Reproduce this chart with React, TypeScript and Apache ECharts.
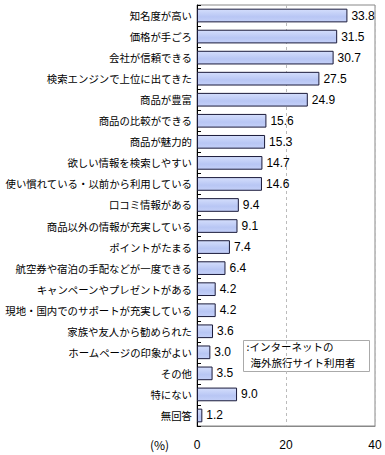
import React, { useEffect, useRef } from "react";
import * as echarts from "echarts";

const categories = [
  "知名度が高い",
  "価格が手ごろ",
  "会社が信頼できる",
  "検索エンジンで上位に出てきた",
  "商品が豊富",
  "商品の比較ができる",
  "商品が魅力的",
  "欲しい情報を検索しやすい",
  "使い慣れている・以前から利用している",
  "口コミ情報がある",
  "商品以外の情報が充実している",
  "ポイントがたまる",
  "航空券や宿泊の手配などが一度できる",
  "キャンペーンやプレゼントがある",
  "現地・国内でのサポートが充実している",
  "家族や友人から勧められた",
  "ホームページの印象がよい",
  "その他",
  "特にない",
  "無回答",
];
const values = [33.8, 31.5, 30.7, 27.5, 24.9, 15.6, 15.3, 14.7, 14.6, 9.4, 9.1, 7.4, 6.4, 4.2, 4.2, 3.6, 3.0, 3.5, 9.0, 1.2];
const seriesName = "インターネットの海外旅行サイト利用者";
const legendLines = [":インターネットの", "海外旅行サイト利用者"];
const xTicks = { min: 0, max: 40, interval: 20 };

export default function App() {
  const ref = useRef<HTMLDivElement>(null);
  useEffect(() => {
    if (!ref.current) return;
    const chart = echarts.init(ref.current, undefined, { renderer: "svg" });
    chart.setOption({
      animation: false,
      grid: {
        left: 197,
        right: 10,
        top: 5,
        bottom: 29,
        containLabel: false,
        outerBoundsMode: "none",
        show: true,
        borderColor: "#888",
        borderWidth: 1,
        backgroundColor: "transparent",
      },
      xAxis: {
        type: "value",
        min: xTicks.min,
        max: xTicks.max,
        interval: xTicks.interval,
        axisLine: { show: true, lineStyle: { color: "#888" } },
        axisTick: { show: false },
        splitLine: { show: true, lineStyle: { color: "#bbb", type: [3, 3] } },
        axisLabel: {
          color: "#000",
          fontFamily: "Liberation Sans, Arial, sans-serif",
          fontSize: 12,
          margin: 13,
        },
      },
      yAxis: {
        type: "category",
        data: categories,
        inverse: true,
        axisLine: { show: true, lineStyle: { color: "#000" } },
        axisTick: { show: true, inside: true, length: 4, lineStyle: { color: "#000" } },
        axisLabel: {
          color: "#000",
          fontFamily: "Noto Sans CJK JP, sans-serif",
          fontSize: 10.4,
          margin: 5,
        },
      },
      series: [
        {
          name: seriesName,
          type: "bar",
          data: values,
          barCategoryGap: "35%",
          itemStyle: {
            color: new echarts.graphic.LinearGradient(0, 0, 0, 1, [
              { offset: 0, color: "#d4defc" },
              { offset: 0.6, color: "#b8c6f4" },
              { offset: 1, color: "#c4d0f8" },
            ]),
            borderColor: "#1a1a3a",
            borderWidth: 1,
          },
          label: {
            show: true,
            position: "right",
            distance: 4,
            color: "#000",
            fontFamily: "Liberation Sans, Arial, sans-serif",
            fontSize: 12,
            formatter: (p: any) => Number(p.value).toFixed(1),
          },
        },
      ],
      graphic: [
        {
          type: "text",
          left: 150,
          top: 438,
          style: {
            text: "(%)",
            fill: "#000",
            font: "12px 'Noto Sans CJK JP', sans-serif",
          },
        },
        {
          type: "group",
          left: 243,
          top: 340,
          children: [
            {
              type: "rect",
              shape: { x: 0, y: 0, width: 126, height: 31 },
              style: { fill: "#fff", stroke: "#aaa", lineWidth: 1 },
            },
            {
              type: "text",
              x: 3,
              y: 0,
              style: {
                text: legendLines[0],
                fill: "#000",
                font: "10.5px 'Noto Sans CJK JP', sans-serif",
                lineHeight: 12,
              },
            },
            {
              type: "text",
              x: 7,
              y: 16,
              style: {
                text: legendLines[1],
                fill: "#000",
                font: "10.5px 'Noto Sans CJK JP', sans-serif",
                lineHeight: 12,
              },
            },
          ],
        },
      ],
    });
    return () => chart.dispose();
  }, []);
  return <div ref={ref} style={{ width: 385, height: 455, position: "absolute", left: 0, top: 0 }} />;
}
